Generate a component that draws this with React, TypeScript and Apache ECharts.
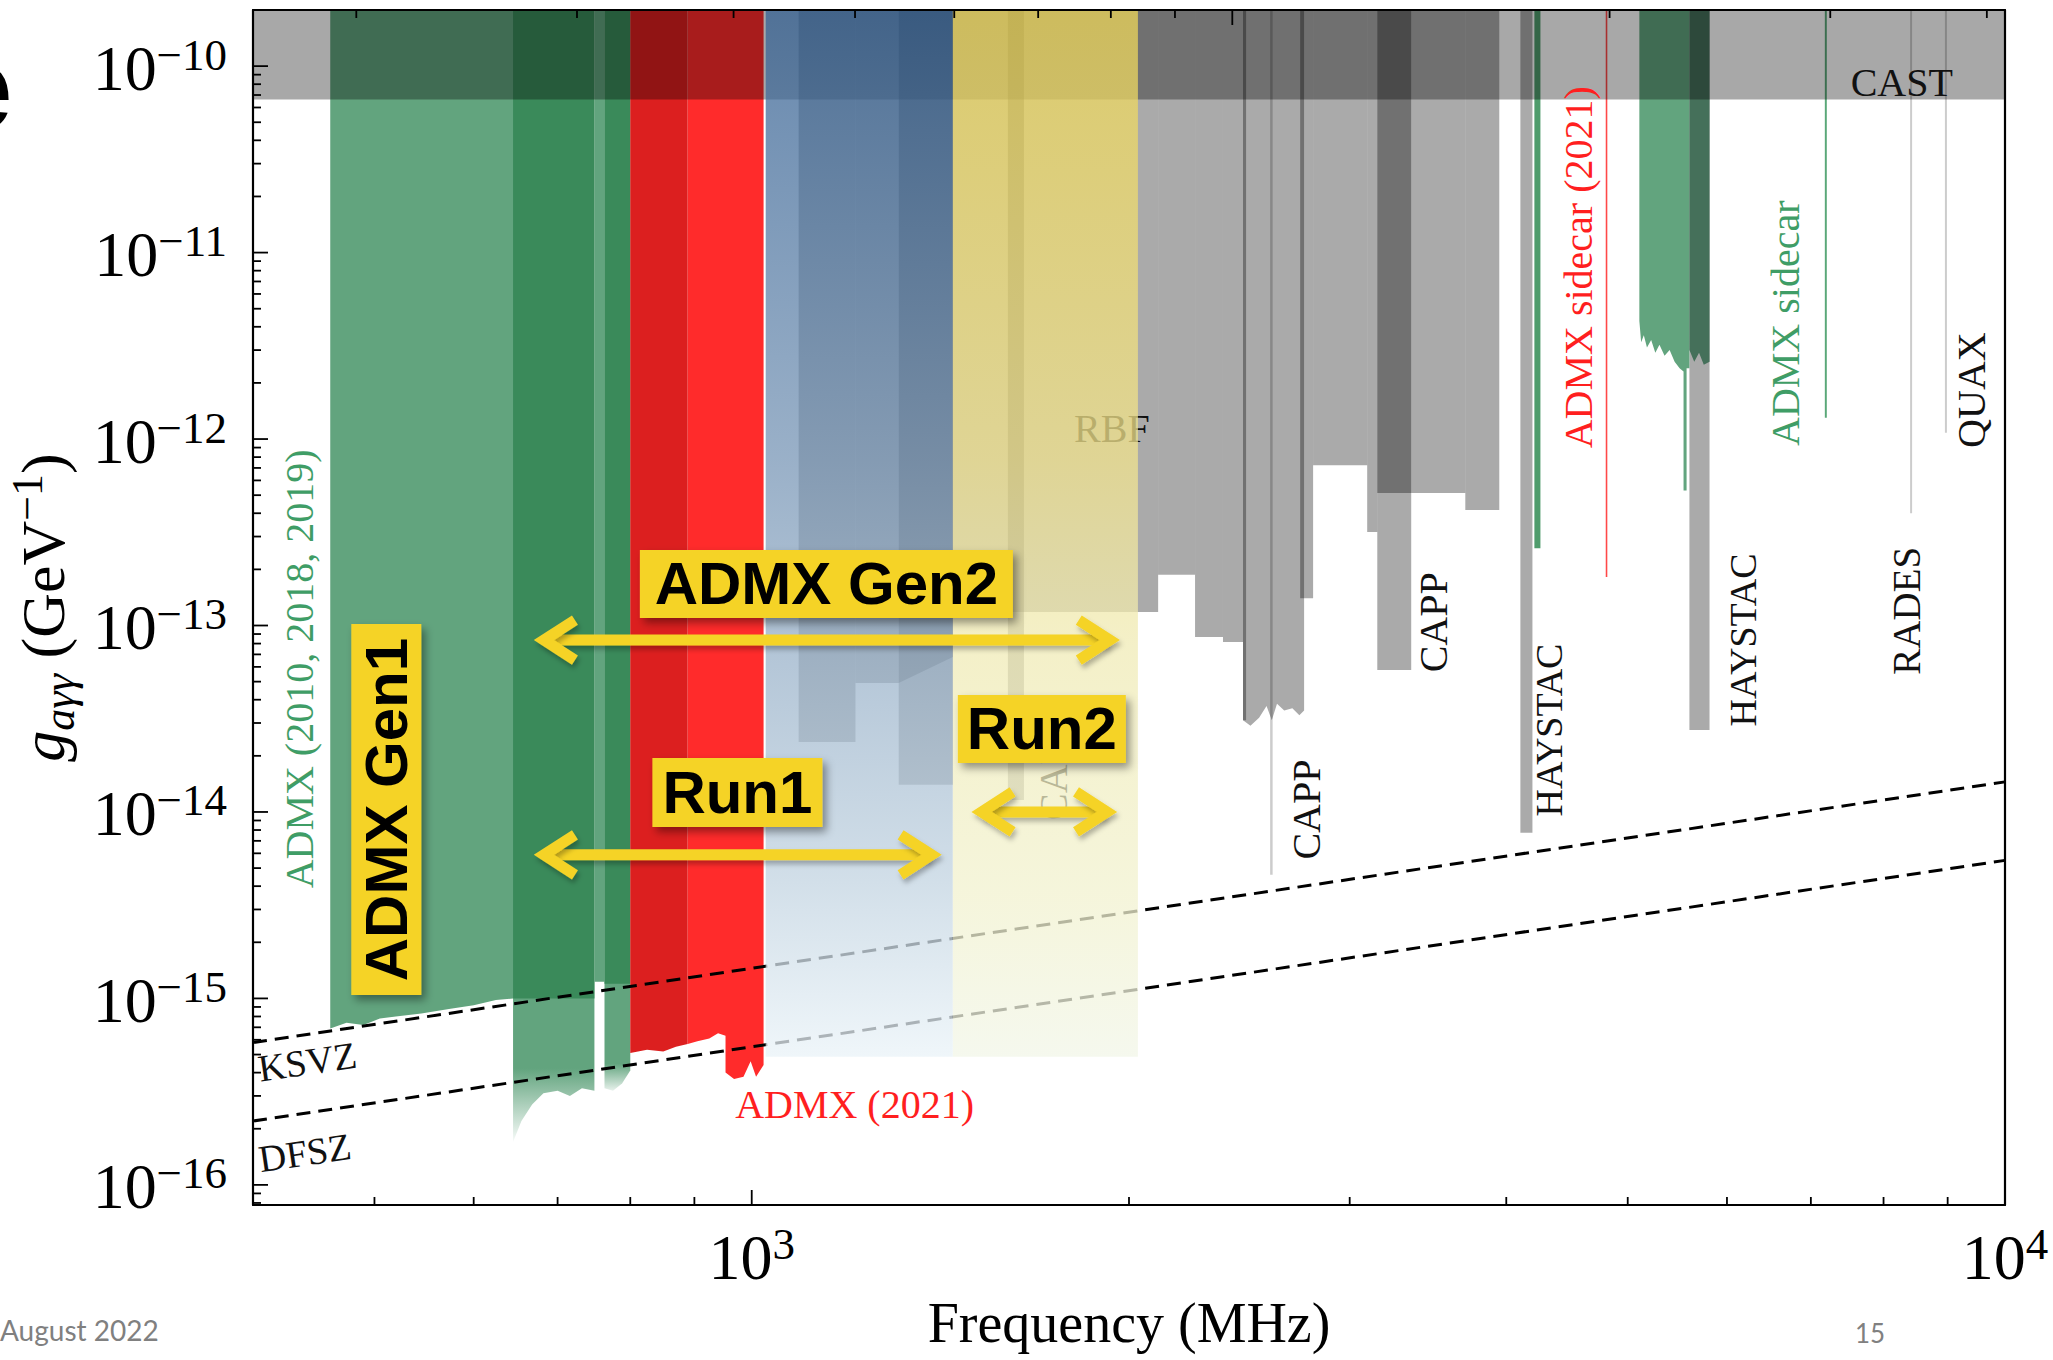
import React, { useEffect, useRef } from 'react';
import * as echarts from 'echarts';

const SERIF = '"Liberation Serif", "Times New Roman", serif';
const SANS = '"Liberation Sans", Arial, sans-serif';

// ---------------- axes ----------------
const X_MIN = 400; // MHz
const X_MAX = 10000; // MHz
const Y_MIN = 7.8e-17; // GeV^-1
const Y_MAX = 2e-10; // GeV^-1

const X_MAJOR_TICKS = [1000, 10000];
const X_MINOR_TICKS = [500, 600, 700, 800, 900, 2000, 3000, 4000, 5000, 6000, 7000, 8000, 9000];
const Y_MAJOR_TICKS = [1e-16, 1e-15, 1e-14, 1e-13, 1e-12, 1e-11, 1e-10];
const Y_DECADES = [-17, -16, -15, -14, -13, -12, -11, -10];
const LOG_MINOR_MULTIPLIERS = [2, 3, 4, 5, 6, 7, 8, 9];
const Y_MINOR_TICKS = Y_DECADES.flatMap((d) => LOG_MINOR_MULTIPLIERS.map((m) => m * Math.pow(10, d))).filter(
  (v) => v > Y_MIN && v < Y_MAX * 0.999
);
// top axis: axion mass (ueV)
const MASS_TICKS_UEV = [2, 3, 4, 5, 6, 7, 8, 9, 10, 20, 30, 40];
const MASS_MAJOR_UEV = 10;
const MHZ_PER_UEV = 241.8;

// ---------------- model lines ----------------
const KSVZ_LINE = [[400, 5.8e-16], [10000, 1.45e-14]];
const DFSZ_LINE = [[400, 2.2e-16], [10000, 5.5e-15]];

// ---------------- excluded regions: lower edges [MHz, g] ----------------
const CAST_EDGE = [[400, 6.63e-11], [10000, 6.63e-11]];

// gray steps [f0, f1, g_bottom]
const GRAY_STEPS = [
  [1090, 1210, 2.37e-14],
  [1210, 1310, 4.92e-14],
  [1310, 1447, 1.4e-14],
  [1447, 2110, 1.18e-13],
  [1601, 1649, 1.16e-14],
  [2110, 2258, 1.87e-13],
  [2258, 2377, 8.68e-14],
  [2377, 2466, 8.16e-14],
  [2759, 2805, 1.4e-13],
  [2805, 3098, 7.24e-13],
  [3098, 3156, 3.17e-13],
  [3156, 3359, 5.13e-13],
  [3156, 3359, 5.77e-14],
  [3359, 3710, 5.13e-13],
  [3710, 3949, 4.16e-13],
  [4105, 4197, 7.73e-15],
  [5600, 5811, 2.75e-14],
];
const GRAY_EDGE_STRIPS = [
  [2466, 2480, 3.1e-14],
  [2739, 2759, 1.4e-13],
];
const FAINT_LINES = [
  [2592, 2604, 4.6e-15],
  [8400, 8431, 4.0e-13],
  [8955, 8988, 1.08e-12],
];
const RUN1C_SLANT_EDGE = [[1310, 4.92e-14], [1447, 6.78e-14]];
const CAPP_EDGE = [
  [2466, 3.1e-14], [2500, 2.9e-14], [2540, 3.2e-14], [2575, 3.7e-14], [2600, 3.1e-14],
  [2625, 3.8e-14], [2660, 3.5e-14], [2700, 3.6e-14], [2735, 3.3e-14], [2759, 3.5e-14],
];

const ADMX_2010_EDGE = [
  [461, 6.9e-16], [475, 7.4e-16], [490, 7.2e-16], [505, 7.8e-16], [520, 8.0e-16], [545, 8.3e-16],
  [575, 8.8e-16], [600, 9.2e-16], [625, 9.8e-16], [645, 1.0e-15],
];
const ADMX_2018_LOW_EDGE = [
  [645, 1.7e-16], [655, 2.2e-16], [668, 2.7e-16], [682, 3.1e-16], [700, 3.2e-16],
  [716, 3.0e-16], [732, 3.3e-16], [749, 3.2e-16],
];
const ADMX_2019_LOW_EDGE = [[763, 3.3e-16], [775, 3.2e-16], [788, 3.5e-16], [800, 4.1e-16]];
const ADMX_2018_DARK_EDGE = [[645, 1.0e-15], [749, 1.0e-15]];
const ADMX_GAP_EDGE = [[749, 1.23e-15], [763, 1.23e-15]];
const ADMX_2019_DARK_EDGE = [[763, 1.2e-15], [800, 1.2e-15]];
const ADMX_2021_A_EDGE = [[800, 5.1e-16], [825, 5.3e-16], [850, 5.2e-16], [870, 5.5e-16], [889, 5.7e-16]];
const ADMX_2021_B_EDGE = [
  [889, 5.7e-16], [905, 5.9e-16], [925, 6.1e-16], [940, 6.5e-16], [953, 6.3e-16], [953, 4.0e-16],
  [968, 3.7e-16], [985, 3.8e-16], [998, 4.6e-16], [1008, 3.8e-16], [1022, 4.4e-16],
];
const SIDECAR_4GHZ_EDGE = [[4212, 2.6e-13], [4259, 2.6e-13]];
const SIDECAR_RED_EDGE = [[4802, 1.82e-13], [4816, 1.82e-13]];
const SIDECAR_5GHZ_EDGE = [
  [5108, 4.3e-12], [5125, 3.3e-12], [5150, 3.6e-12], [5180, 3.1e-12], [5220, 3.4e-12], [5260, 2.9e-12],
  [5300, 3.2e-12], [5350, 2.8e-12], [5400, 3.0e-12], [5450, 2.6e-12], [5500, 2.4e-12], [5540, 2.3e-12],
  [5540, 5.3e-13], [5571, 5.3e-13], [5571, 2.4e-12], [5600, 2.4e-12],
];
const SIDECAR_OVER_HAYSTAC_EDGE = [[5600, 3.0e-12], [5650, 2.6e-12], [5700, 2.9e-12], [5750, 2.5e-12], [5811, 2.6e-12]];
const SIDECAR_7GHZ_EDGE = [[7182, 1.3e-12], [7208, 1.3e-12]];

// overlay bands (ADMX Gen2 Run1 / Run2)
const RUN1_BAND = [1026, 1447];
const RUN2_BAND = [1447, 2033];
const BAND_FLOOR = 4.87e-16;

// ---------------- text labels ----------------
const TEXT_LABELS = [
  { text: 'ADMX (2010, 2018, 2019)', at: [436, 5.85e-14], rotate: 90, color: '#3f9d66', size: 40 },
  { text: 'ADMX (2021)', at: [1208, 2.69e-16], rotate: 0, color: '#ff1f1f', size: 40 },
  { text: 'ADMX sidecar (2021)', at: [4566, 8.34e-12], rotate: 90, color: '#ff1f1f', size: 40 },
  { text: 'ADMX sidecar', at: [6682, 4.18e-12], rotate: 90, color: '#3f9d66', size: 40 },
  { text: 'CAST', at: [8273, 8.18e-11], rotate: 0, color: '#111', size: 40 },
  { text: 'QUAX', at: [9408, 1.83e-12], rotate: 90, color: '#111', size: 40 },
  { text: 'RADES', at: [8348, 1.2e-13], rotate: 90, color: '#111', size: 39 },
  { text: 'HAYSTAC', at: [4329, 2.75e-14], rotate: 90, color: '#111', size: 38 },
  { text: 'HAYSTAC', at: [6174, 8.37e-14], rotate: 90, color: '#111', size: 38 },
  { text: 'CAPP', at: [2770, 1.03e-14], rotate: 90, color: '#111', size: 40 },
  { text: 'CAPP', at: [3498, 1.04e-13], rotate: 90, color: '#111', size: 40 },
  { text: 'RBF', at: [1938, 1.14e-12], rotate: 0, color: '#111', size: 40 },
  { text: 'CAPP', at: [1742, 1.68e-14], rotate: 90, color: '#111', size: 40 },
  { text: 'KSVZ', at: [442, 4.58e-16], rotate: 8.4, color: '#111', size: 38 },
  { text: 'DFSZ', at: [440, 1.49e-16], rotate: 8.4, color: '#111', size: 38 },
];

// ---------------- slide annotations ----------------
const ANNOT_BOXES = [
  { text: 'ADMX Gen2', at: [1147, 1.67e-13], w: 373, h: 68, rotate: 0 },
  { text: 'Run1', at: [974, 1.27e-14], w: 170, h: 69, rotate: 0 },
  { text: 'Run2', at: [1704, 2.79e-14], w: 168, h: 68, rotate: 0 },
  { text: 'ADMX Gen1', at: [511, 1.03e-14], w: 70, h: 371, rotate: 90 },
];
const GEN2_SPAN = [[669, 8.36e-14], [1970, 8.36e-14]];
const RUN1_SPAN = [[669, 5.89e-15], [1420, 5.89e-15]];
const RUN2_SPAN = [[1495, 1.0e-14], [1960, 1.0e-14]];

// ---------------- helpers ----------------
const GRAY = 'rgba(0,0,0,0.335)';
const GRAY_THIN = 'rgba(0,0,0,0.2)';
const LIGHT_GREEN = '#62a47e';
const DARK_GREEN = '#3a8a5a';
const RED_DARK = '#dc1f1f';
const RED = '#ff2b2b';
const ANNOT_YELLOW = '#f5d327';

const edgePoly = (edge: number[][]) => [[edge[0][0], Y_MAX], ...edge, [edge[edge.length - 1][0], Y_MAX]];
const stepPoly = (s: number[]) => edgePoly([[s[0], s[2]], [s[1], s[2]]]);
const fade = (c: string, end: string, at: number) =>
  new echarts.graphic.LinearGradient(0, 0, 0, 1, [
    { offset: 0, color: c },
    { offset: at, color: c },
    { offset: 1, color: end },
  ]);

const LAYERS: { poly: number[][]; fill: any }[] = [
  ...GRAY_STEPS.map((s) => ({ poly: stepPoly(s), fill: GRAY })),
  { poly: edgePoly(RUN1C_SLANT_EDGE), fill: GRAY },
  { poly: edgePoly(CAPP_EDGE), fill: GRAY },
  ...GRAY_EDGE_STRIPS.map((s) => ({ poly: stepPoly(s), fill: GRAY })),
  ...FAINT_LINES.map((s) => ({ poly: stepPoly(s), fill: GRAY_THIN })),
  { poly: edgePoly(ADMX_2018_LOW_EDGE), fill: fade(LIGHT_GREEN, 'rgba(98,164,126,0.05)', 0.935) },
  { poly: edgePoly(ADMX_2019_LOW_EDGE), fill: fade(LIGHT_GREEN, 'rgba(98,164,126,0.15)', 0.975) },
  { poly: edgePoly(ADMX_2010_EDGE), fill: LIGHT_GREEN },
  { poly: edgePoly(ADMX_2018_DARK_EDGE), fill: DARK_GREEN },
  { poly: edgePoly(ADMX_GAP_EDGE), fill: LIGHT_GREEN },
  { poly: edgePoly(ADMX_2019_DARK_EDGE), fill: DARK_GREEN },
  { poly: edgePoly(ADMX_2021_A_EDGE), fill: RED_DARK },
  { poly: edgePoly(ADMX_2021_B_EDGE), fill: RED },
  { poly: edgePoly(SIDECAR_4GHZ_EDGE), fill: '#4f9c6c' },
  { poly: edgePoly(SIDECAR_RED_EDGE), fill: 'rgba(255,40,40,0.85)' },
  { poly: edgePoly(SIDECAR_5GHZ_EDGE), fill: LIGHT_GREEN },
  { poly: edgePoly(SIDECAR_OVER_HAYSTAC_EDGE), fill: '#45705a' },
  { poly: edgePoly(SIDECAR_7GHZ_EDGE), fill: '#5aa878' },
  { poly: edgePoly(CAST_EDGE), fill: 'rgba(0,0,0,0.34)' },
];

const BLUE_STOPS = [
  { offset: 0, color: 'rgba(52,96,146,0.75)' },
  { offset: 0.43, color: 'rgba(120,150,182,0.75)' },
  { offset: 0.82, color: 'rgba(192,210,224,0.75)' },
  { offset: 1, color: 'rgba(234,243,248,0.75)' },
];
const YELLOW_STOPS = [
  { offset: 0, color: 'rgba(236,213,88,0.75)' },
  { offset: 0.43, color: 'rgba(241,227,142,0.75)' },
  { offset: 0.61, color: 'rgba(240,235,182,0.75)' },
  { offset: 0.85, color: 'rgba(242,242,208,0.75)' },
  { offset: 1, color: 'rgba(242,246,232,0.75)' },
];
const BANDS = [
  { span: RUN1_BAND, stops: BLUE_STOPS },
  { span: RUN2_BAND, stops: YELLOW_STOPS },
];

type Tick = { at: number[]; dir: number[]; len: number };
const TICK_SPECS: Tick[] = [
  ...X_MAJOR_TICKS.map((f) => ({ at: [f, Y_MIN], dir: [0, -1], len: 15 })),
  ...X_MINOR_TICKS.map((f) => ({ at: [f, Y_MIN], dir: [0, -1], len: 8 })),
  ...Y_MAJOR_TICKS.map((g) => ({ at: [X_MIN, g], dir: [1, 0], len: 15 })),
  ...Y_MINOR_TICKS.map((g) => ({ at: [X_MIN, g], dir: [1, 0], len: 8 })),
  ...MASS_TICKS_UEV.map((m) => ({ at: [m * MHZ_PER_UEV, Y_MAX], dir: [0, 1], len: m === MASS_MAJOR_UEV ? 15 : 8 })),
];

const supText = (e: number) => (e < 0 ? '\u2212' + -e : String(e));
const powerLabel = (v: number) => {
  const e = Math.log10(v);
  const r = Math.round(e);
  if (Math.abs(e - r) > 1e-6) return '';
  return '{b|10}{s|' + supText(r) + '}';
};
const LABEL_RICH = {
  b: { fontFamily: SERIF, fontSize: 64, lineHeight: 68, verticalAlign: 'bottom', color: '#000' },
  s: { fontFamily: SERIF, fontSize: 45, lineHeight: 32, verticalAlign: 'top', color: '#000' },
};

const AXIS_LINE = { show: true, onZero: false, lineStyle: { color: '#000', width: 2.2 } };

function buildOption() {
  return {
    animation: false,
    backgroundColor: '#fff',
    grid: { left: 253, top: 10, width: 1752, height: 1195, containLabel: false, outerBoundsMode: 'none' },
    xAxis: [
      {
        type: 'log',
        logBase: 10,
        min: X_MIN,
        max: X_MAX,
        position: 'bottom',
        z: 8,
        axisLine: AXIS_LINE,
        axisTick: { show: false },
        minorTick: { show: false },
        splitLine: { show: false },
        axisLabel: { margin: 16, color: '#000', formatter: powerLabel, rich: LABEL_RICH, showMaxLabel: true },
        name: 'Frequency (MHz)',
        nameLocation: 'middle',
        nameGap: 90,
        nameTextStyle: { fontFamily: SERIF, fontSize: 56, color: '#000' },
      },
      {
        type: 'value',
        position: 'top',
        min: 0,
        max: 1,
        z: 8,
        axisLine: AXIS_LINE,
        axisTick: { show: false },
        axisLabel: { show: false },
        splitLine: { show: false },
      },
    ],
    yAxis: [
      {
        type: 'log',
        logBase: 10,
        min: Y_MIN,
        max: Y_MAX,
        position: 'left',
        z: 8,
        axisLine: AXIS_LINE,
        axisTick: { show: false },
        minorTick: { show: false },
        splitLine: { show: false },
        axisLabel: { margin: 26, color: '#000', formatter: powerLabel, rich: LABEL_RICH },
        name: '{it|g}{sub|a\u03b3\u03b3}{n| (GeV}{sup|\u22121}{n|)}',
        nameLocation: 'middle',
        nameGap: 172,
        nameRotate: 90,
        nameTextStyle: {
          fontFamily: SERIF,
          fontSize: 62,
          color: '#000',
          rich: {
            it: { fontFamily: SERIF, fontStyle: 'italic', fontSize: 62, lineHeight: 76, color: '#000' },
            sub: { fontFamily: SERIF, fontStyle: 'italic', fontSize: 44, lineHeight: 44, verticalAlign: 'bottom', color: '#000' },
            n: { fontFamily: SERIF, fontSize: 62, lineHeight: 76, color: '#000' },
            sup: { fontFamily: SERIF, fontSize: 44, lineHeight: 40, verticalAlign: 'top', color: '#000' },
          },
        },
      },
      {
        type: 'value',
        position: 'right',
        min: 0,
        max: 1,
        z: 8,
        axisLine: AXIS_LINE,
        axisTick: { show: false },
        axisLabel: { show: false },
        splitLine: { show: false },
      },
    ],
    series: [
      {
        name: 'excluded',
        type: 'custom',
        z: 1,
        silent: true,
        data: LAYERS.map((l) => l.poly[1]),
        encode: { x: 0, y: 1 },
        renderItem: (params: any, api: any) => {
          const layer = LAYERS[params.dataIndex];
          return {
            type: 'polygon',
            shape: { points: layer.poly.map((p) => api.coord(p)) },
            style: { fill: layer.fill, stroke: null },
          };
        },
      },
      {
        name: 'labels',
        type: 'custom',
        z: 2,
        silent: true,
        data: TEXT_LABELS.map((l) => l.at),
        encode: { x: 0, y: 1 },
        renderItem: (params: any, api: any) => {
          const l = TEXT_LABELS[params.dataIndex];
          const p = api.coord(l.at);
          return {
            type: 'text',
            x: p[0],
            y: p[1],
            rotation: (l.rotate * Math.PI) / 180,
            style: {
              text: l.text,
              fill: l.color,
              font: `${l.size}px ${SERIF}`,
              align: 'center',
              verticalAlign: 'middle',
            },
          };
        },
      },
      {
        name: 'KSVZ',
        type: 'line',
        z: 3,
        silent: true,
        symbol: 'none',
        data: KSVZ_LINE,
        lineStyle: { color: '#000', width: 3, type: [14, 8] },
      },
      {
        name: 'DFSZ',
        type: 'line',
        z: 3,
        silent: true,
        symbol: 'none',
        data: DFSZ_LINE,
        lineStyle: { color: '#000', width: 3, type: [14, 8] },
      },
      {
        name: 'bands',
        type: 'custom',
        z: 4,
        silent: true,
        data: BANDS.map((b) => [b.span[0], BAND_FLOOR]),
        encode: { x: 0, y: 1 },
        renderItem: (params: any, api: any) => {
          const b = BANDS[params.dataIndex];
          const p0 = api.coord([b.span[0], Y_MAX]);
          const p1 = api.coord([b.span[1], BAND_FLOOR]);
          return {
            type: 'rect',
            shape: { x: p0[0], y: p0[1], width: p1[0] - p0[0], height: p1[1] - p0[1] },
            style: { fill: new echarts.graphic.LinearGradient(0, 0, 0, 1, b.stops) },
          };
        },
      },
      {
        name: 'annotations',
        type: 'custom',
        z: 5,
        silent: true,
        data: [[1000, 1e-13]],
        encode: { x: 0, y: 1 },
        renderItem: (params: any, api: any) => {
          const children: any[] = [];
          const shadow = {
            shadowBlur: 5,
            shadowColor: 'rgba(0,0,0,0.28)',
            shadowOffsetX: 2,
            shadowOffsetY: 4,
          };
          const headStyle = {
            stroke: ANNOT_YELLOW,
            lineWidth: 11,
            fill: 'none',
            lineJoin: 'miter',
            ...shadow,
          };
          [GEN2_SPAN, RUN1_SPAN, RUN2_SPAN].forEach(([a, b]) => {
            const p0 = api.coord(a);
            const p1 = api.coord(b);
            const y = p0[1];
            const L = p0[0] + 11;
            const R = p1[0] - 11;
            children.push({
              type: 'rect',
              shape: { x: L + 2, y: y - 5.5, width: R - L - 4, height: 11 },
              style: { fill: ANNOT_YELLOW, ...shadow },
            });
            children.push({
              type: 'polyline',
              shape: { points: [[L + 31, y - 20], [L, y], [L + 31, y + 20]] },
              style: { ...headStyle },
            });
            children.push({
              type: 'polyline',
              shape: { points: [[R - 31, y - 20], [R, y], [R - 31, y + 20]] },
              style: { ...headStyle },
            });
          });
          ANNOT_BOXES.forEach((bx) => {
            const c = api.coord(bx.at);
            children.push({
              type: 'rect',
              shape: { x: c[0] - bx.w / 2, y: c[1] - bx.h / 2, width: bx.w, height: bx.h },
              style: {
                fill: ANNOT_YELLOW,
                shadowBlur: 8,
                shadowColor: 'rgba(0,0,0,0.4)',
                shadowOffsetX: 4,
                shadowOffsetY: 5,
              },
            });
            children.push({
              type: 'text',
              x: c[0],
              y: c[1],
              rotation: (bx.rotate * Math.PI) / 180,
              style: {
                text: bx.text,
                fill: '#000',
                font: `bold 60px ${SANS}`,
                align: 'center',
                verticalAlign: 'middle',
              },
            });
          });
          return { type: 'group', children };
        },
      },
      {
        name: 'ticks',
        type: 'custom',
        z: 9,
        silent: true,
        data: TICK_SPECS.map((t) => t.at),
        encode: { x: 0, y: 1 },
        renderItem: (params: any, api: any) => {
          const t = TICK_SPECS[params.dataIndex];
          const p = api.coord(t.at);
          return {
            type: 'line',
            shape: { x1: p[0], y1: p[1], x2: p[0] + t.dir[0] * t.len, y2: p[1] + t.dir[1] * t.len },
            style: { stroke: '#000', lineWidth: 1.8 },
          };
        },
      },
    ],
    graphic: [
      {
        type: 'text',
        x: 0,
        y: 1330,
        style: { text: 'August 2022', font: '28px Lato', fill: '#808080', verticalAlign: 'middle' },
      },
      {
        type: 'text',
        x: 1870,
        y: 1333,
        style: { text: '15', font: '26px Lato', fill: '#808080', align: 'center', verticalAlign: 'middle' },
      },
      {
        type: 'text',
        x: -53,
        y: 88,
        style: { text: 'e', font: `bold 118px ${SANS}`, fill: '#000', verticalAlign: 'middle' },
      },
    ],
  };
}

export default function App() {
  const ref = useRef<HTMLDivElement>(null);
  useEffect(() => {
    document.body.style.overflow = 'hidden';
    const chart = echarts.init(ref.current as HTMLDivElement, null, { renderer: 'svg' });
    chart.setOption(buildOption() as any);
    return () => chart.dispose();
  }, []);
  return (
    <div
      ref={ref}
      style={{ position: 'absolute', left: 0, top: 0, width: 2053, height: 1360, background: '#fff' }}
    />
  );
}
